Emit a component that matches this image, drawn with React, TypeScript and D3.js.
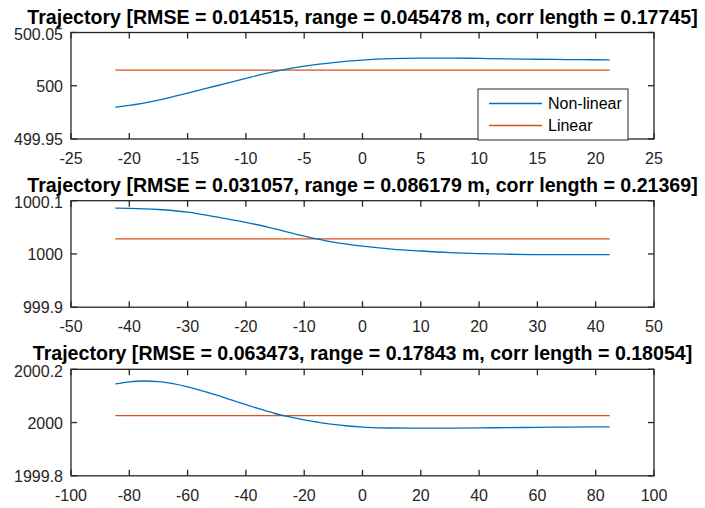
import React from "react";
import * as d3 from "d3";

// ---------- data ----------
const titles = [
  "Trajectory [RMSE = 0.014515, range = 0.045478 m, corr length = 0.17745]",
  "Trajectory [RMSE = 0.031057, range = 0.086179 m, corr length = 0.21369]",
  "Trajectory [RMSE = 0.063473, range = 0.17843 m, corr length = 0.18054]",
];
const seriesNames = ["Non-linear", "Linear"];

const x1 = [-21.2, -20, -17.5, -15, -12.5, -10, -7.5, -5, -2.5, 0, 2.5, 5, 7.5, 10, 12.5, 15, 17.5, 20, 21.2];
const nonLinear1 = [499.9799, 499.9815, 499.9865, 499.993, 500.0, 500.007, 500.0135, 500.0185, 500.0218, 500.0241, 500.0254, 500.0259, 500.026, 500.0257, 500.0253, 500.0249, 500.0246, 500.0244, 500.0243];
const linear1 = 500.0147;

const x2 = [-42.4, -40, -35, -30, -25, -20, -15, -10, -5, 0, 5, 10, 15, 20, 25, 30, 35, 40, 42.4];
const nonLinear2 = [1000.086, 1000.0857, 1000.0835, 1000.0785, 1000.0695, 1000.0595, 1000.047, 1000.0335, 1000.0222, 1000.0147, 1000.0092, 1000.0055, 1000.0025, 1000.0006, 999.9994, 999.9988, 999.9987, 999.9987, 999.9988];
const linear2 = 1000.0283;

const x3 = [-84.8, -80, -75, -70, -65, -60, -55, -50, -45, -40, -35, -30, -25, -20, -15, -10, -5, 0, 10, 20, 30, 40, 50, 60, 70, 80, 84.8];
const nonLinear3 = [2000.145, 2000.153, 2000.156, 2000.154, 2000.146, 2000.134, 2000.119, 2000.103, 2000.085, 2000.067, 2000.05, 2000.034, 2000.021, 2000.01, 2000.001, 1999.993, 1999.987, 1999.983, 1999.9795, 1999.979, 1999.979, 1999.98, 1999.981, 1999.982, 1999.983, 1999.984, 1999.984];
const linear3 = 2000.026;

const xDomains = [[-25, 25], [-50, 50], [-100, 100]];
const xTicks = [
  [-25, -20, -15, -10, -5, 0, 5, 10, 15, 20, 25],
  [-50, -40, -30, -20, -10, 0, 10, 20, 30, 40, 50],
  [-100, -80, -60, -40, -20, 0, 20, 40, 60, 80, 100],
];
const yDomains = [[499.95, 500.05], [999.9, 1000.1], [1999.8, 2000.2]];
const yTicks = [[499.95, 500, 500.05], [999.9, 1000, 1000.1], [1999.8, 2000, 2000.2]];
const yTickLabels = [["499.95", "500", "500.05"], ["999.9", "1000", "1000.1"], ["1999.8", "2000", "2000.2"]];

const xs = [x1, x2, x3];
const nonLinears = [nonLinear1, nonLinear2, nonLinear3];
const linears = [linear1, linear2, linear3];

// ---------- style ----------
const W = 705, H = 508;
const LEFT = 71, RIGHT = 654;
const TOPS = [32.5, 200.7, 369.3];
const PH = 106.5;
const AX = "#262626";
const BLUE = "#0072BD";
const ORANGE = "#D95319";
const FONT = "'Liberation Sans', Arial, Helvetica, sans-serif";

function Panel({ i }: { i: number }) {
  const top = TOPS[i];
  const bottom = top + PH;
  const x = d3.scaleLinear().domain(xDomains[i]).range([LEFT, RIGHT]);
  const y = d3.scaleLinear().domain(yDomains[i]).range([bottom, top]);
  const xv = xs[i];
  const line = d3
    .line<number>()
    .x((_, k) => x(xv[k]))
    .y((d) => y(d))
    .curve(d3.curveMonotoneX);
  const nl = line(nonLinears[i]) || "";
  const linPath =
    d3.line<number>().x((d) => x(d)).y(() => y(linears[i]))([xv[0], xv[xv.length - 1]]) || "";
  const tl = 6;
  return (
    <g>
      <text
        x={(LEFT + RIGHT) / 2}
        y={top - 9}
        textAnchor="middle"
        fontFamily={FONT}
        fontWeight="bold"
        fontSize={19.6}
        fill="#000"
      >
        {titles[i]}
      </text>
      <path d={linPath} stroke={ORANGE} strokeWidth={1.3} fill="none" />
      <path d={nl} stroke={BLUE} strokeWidth={1.3} fill="none" />
      <rect x={LEFT} y={top} width={RIGHT - LEFT} height={PH} fill="none" stroke={AX} strokeWidth={1.3} />
      {xTicks[i].map((t) => (
        <g key={"x" + t}>
          <line x1={x(t)} x2={x(t)} y1={bottom} y2={bottom - tl} stroke={AX} strokeWidth={1.3} />
          <line x1={x(t)} x2={x(t)} y1={top} y2={top + tl} stroke={AX} strokeWidth={1.3} />
          <text
            x={x(t)}
            y={bottom + 25}
            textAnchor="middle"
            fontFamily={FONT}
            fontSize={16}
            fill={AX}
          >
            {String(t)}
          </text>
        </g>
      ))}
      {yTicks[i].map((t, k) => (
        <g key={"y" + t}>
          <line x1={LEFT} x2={LEFT + tl} y1={y(t)} y2={y(t)} stroke={AX} strokeWidth={1.3} />
          <line x1={RIGHT} x2={RIGHT - tl} y1={y(t)} y2={y(t)} stroke={AX} strokeWidth={1.3} />
          <text
            x={LEFT - 8}
            y={y(t) + (k === 2 ? 7.5 : 6)}
            textAnchor="end"
            fontFamily={FONT}
            fontSize={16}
            fill={AX}
          >
            {yTickLabels[i][k]}
          </text>
        </g>
      ))}
    </g>
  );
}

function Legend() {
  const lx = 478, ly = 89, lw = 150, lh = 51;
  const rows = [
    { name: seriesNames[0], color: BLUE, y: 103.5 },
    { name: seriesNames[1], color: ORANGE, y: 125.5 },
  ];
  return (
    <g>
      <rect x={lx} y={ly} width={lw} height={lh} fill="#fff" stroke={AX} strokeWidth={1} />
      {rows.map((r) => (
        <g key={r.name}>
          <line x1={489} x2={542} y1={r.y} y2={r.y} stroke={r.color} strokeWidth={1.3} />
          <text x={548} y={r.y + 5.5} fontFamily={FONT} fontSize={16} fill="#000">
            {r.name}
          </text>
        </g>
      ))}
    </g>
  );
}

export default function App() {
  return (
    <svg
      width={W}
      height={H}
      style={{ position: "absolute", left: 0, top: 0, background: "#fff" }}
    >
      <rect width={W} height={H} fill="#fff" />
      {[0, 1, 2].map((i) => (
        <Panel key={i} i={i} />
      ))}
      <Legend />
    </svg>
  );
}
